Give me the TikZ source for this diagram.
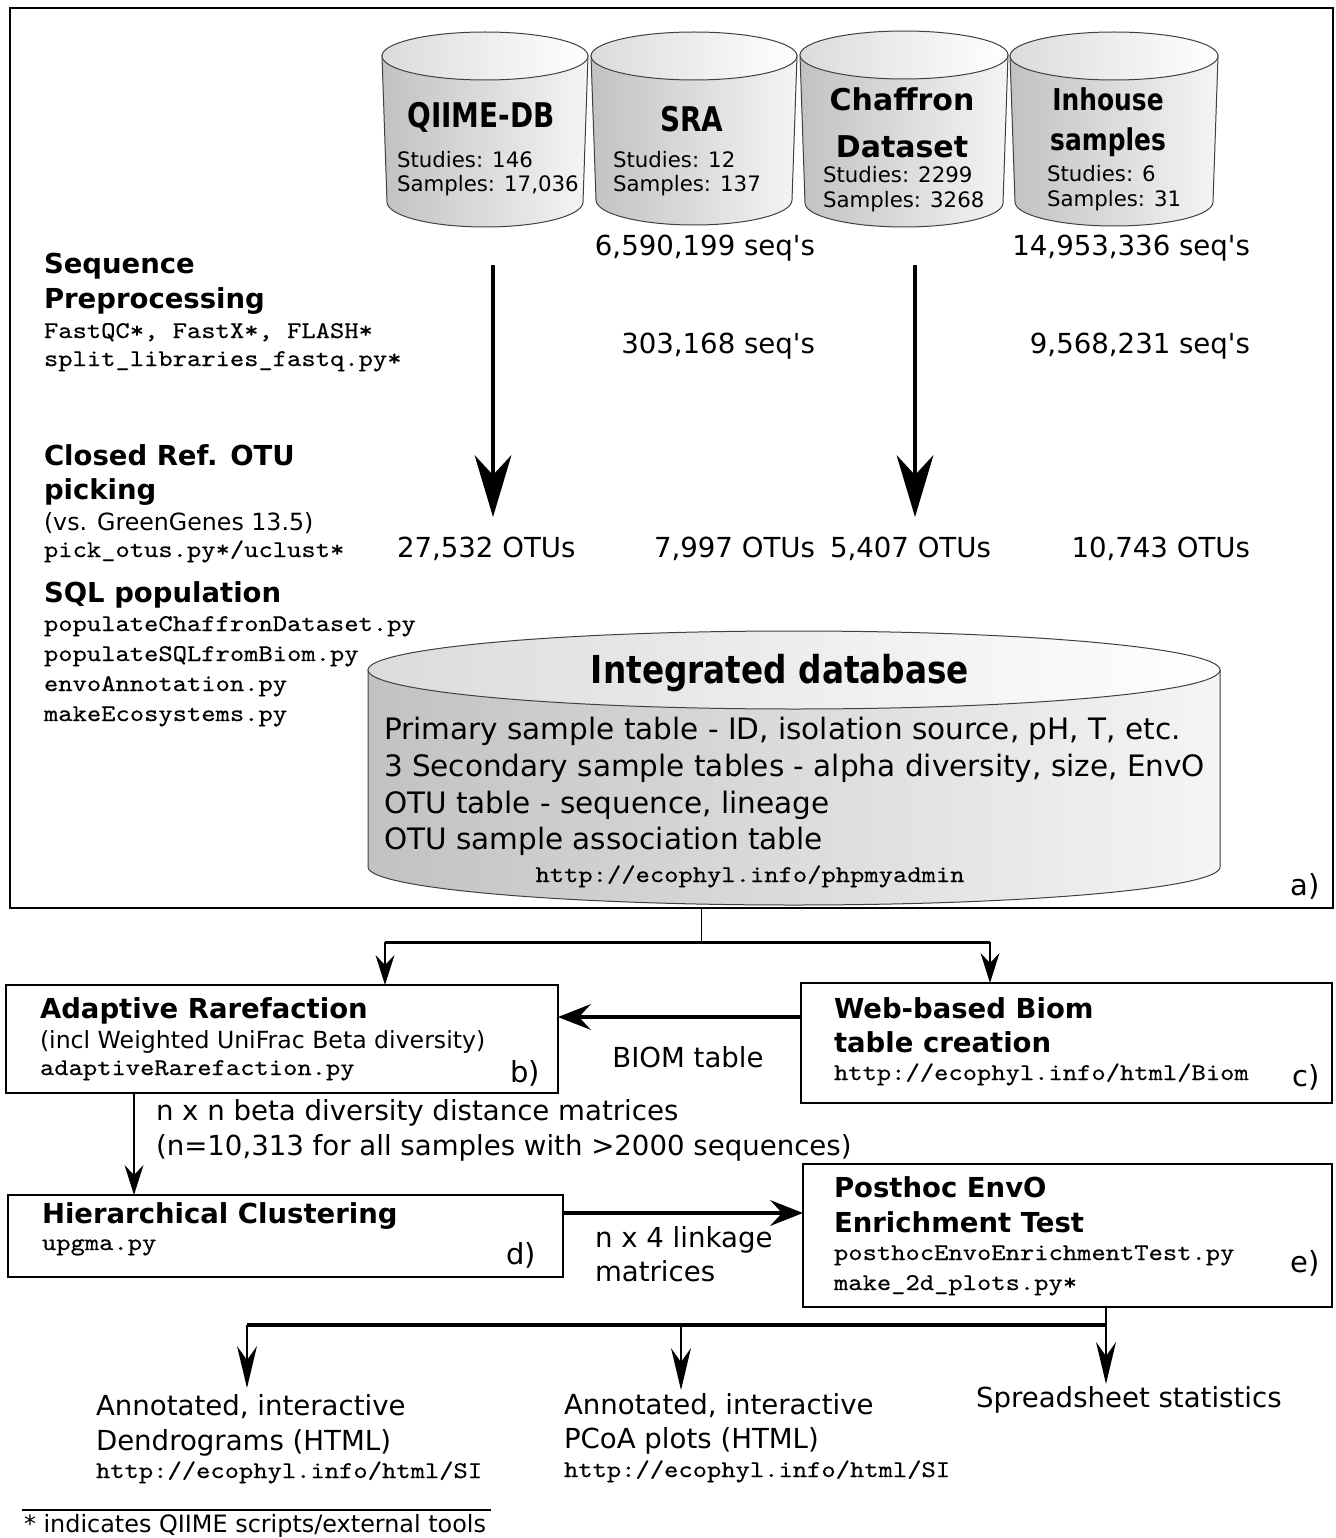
\documentclass[tikz,border=0pt]{standalone}
\usepackage{fontspec}
\setmainfont{DejaVu Sans}
\newfontfamily\condb[FakeStretch=0.82]{DejaVu Sans}
\newfontfamily\condi[FakeStretch=0.83]{DejaVu Sans}
\newfontfamily\condc[FakeStretch=0.85]{DejaVu Sans}
\newfontfamily\monof[FakeStretch=1.135,FakeBold=0.4]{lmmono10-regular.otf}
\usetikzlibrary{arrows.meta,calc}
\newcommand\fsz[1]{\fontsize{#1}{#1}\selectfont}
\newcommand\tline[6]{\node[anchor=#2,inner sep=0pt,outer sep=0pt,font=#5] (#1) at (#3,#4) {#6};}
% cylinder: #1 x1, #2 x2, #3 y top-centre, #4 y bottom-centre, #5 ry top, #6 ry bottom, #7 taper
\newcommand\drawcyl[7]{%
  \pgfmathsetmacro\cx{(#1+#2)/2}%
  \pgfmathsetmacro\rx{(#2-#1)/2}%
  \pgfmathsetmacro\rxb{\rx-#7}%
  \path[cylline, left color=black!24, right color=black!4]
    (#1,#3) -- ({\cx-\rxb},#4)
    .. controls ({\cx-\rxb},{#4+0.5523*#6}) and ({\cx-0.5523*\rxb},{#4+#6}) .. (\cx,{#4+#6})
    .. controls ({\cx+0.5523*\rxb},{#4+#6}) and ({\cx+\rxb},{#4+0.5523*#6}) .. ({\cx+\rxb},#4)
    -- (#2,#3) -- cycle;
  \path[cylline, left color=black!14, right color=white]
    (\cx,#3) ellipse [x radius=\rx pt, y radius=#5 pt];
}
\tikzset{
  cylline/.style={draw=black!75, line width=1pt},
  boxnode/.style={draw=black, line width=2pt, inner sep=0pt, outer sep=0pt},
  bigarr/.style={line width=4pt, -{Stealth[length=62pt,width=37pt,inset=20pt,line width=0pt]}},
  medarr/.style={line width=2pt, -{Stealth[length=30pt,width=19pt,inset=10pt,line width=0pt]}},
  harr/.style={line width=3.5pt, -{Stealth[length=33pt,width=26pt,inset=12pt,line width=0pt]}},
  botarr/.style={line width=2pt, -{Stealth[length=42pt,width=20pt,inset=14pt,line width=0pt]}},
}
\begin{document}
\begin{tikzpicture}[x=1pt,y=-1pt]
\useasboundingbox (0,0) rectangle (1335,1538);
\fill[white] (0,0) rectangle (1335,1538);

% outer frame a)
\node[draw=black, line width=1.5pt, inner sep=0pt, outer sep=0pt, minimum width=1323pt, minimum height=900pt] (frame) at (671.5,458) {};

% source cylinders
\drawcyl{382}{588}{56}{202}{24}{25}{5}
\drawcyl{591}{797}{56}{200}{24}{25}{5}
\drawcyl{800}{1008}{55}{203}{24}{24}{5}
\drawcyl{1010}{1218}{56}{202}{24}{24}{5}

\tline{q1}{base}{481}{128}{\condb\bfseries\fsz{34}}{QIIME-DB}
\tline{q2}{base west}{397}{168}{\fsz{21.3}}{Studies: 146}
\tline{q3}{base west}{397}{192}{\fsz{21.3}}{Samples: 17,036}
\tline{s1}{base}{692}{132}{\condb\bfseries\fsz{34}}{SRA}
\tline{s2}{base west}{613}{168}{\fsz{21.3}}{Studies: 12}
\tline{s3}{base west}{613}{192}{\fsz{21.3}}{Samples: 137}
\tline{c1}{base}{902}{111}{\bfseries\fsz{30}}{Chaffron}
\tline{c2}{base}{902}{158}{\bfseries\fsz{30}}{Dataset}
\tline{c3}{base west}{823}{183}{\fsz{21.3}}{Studies: 2299}
\tline{c4}{base west}{823}{208}{\fsz{21.3}}{Samples: 3268}
\tline{i1}{base}{1108}{111}{\condi\bfseries\fsz{30}}{Inhouse}
\tline{i2}{base}{1108}{151}{\condi\bfseries\fsz{30}}{samples}
\tline{i3}{base west}{1047}{182}{\fsz{21.3}}{Studies: 6}
\tline{i4}{base west}{1047}{207}{\fsz{21.3}}{Samples: 31}

% left column
\tline{lp1}{base west}{44}{273}{\bfseries\fsz{27.5}}{Sequence}
\tline{lp2}{base west}{44}{308}{\bfseries\fsz{27.5}}{Preprocessing}
\tline{lp3}{base west}{44}{338}{\monof\fsz{24}}{FastQC*, FastX*, FLASH*}
\tline{lp4}{base west}{44}{366}{\monof\fsz{24}}{split\_libraries\_fastq.py*}
\tline{lo1}{base west}{44}{465}{\bfseries\fsz{27.5}}{Closed Ref. OTU}
\tline{lo2}{base west}{44}{499}{\bfseries\fsz{27.5}}{picking}
\tline{lo3}{base west}{44}{530}{\fsz{23.7}}{(vs. GreenGenes 13.5)}
\tline{lo4}{base west}{44}{557}{\monof\fsz{24}}{pick\_otus.py*/uclust*}
\tline{ls1}{base west}{44}{602}{\bfseries\fsz{27.5}}{SQL population}
\tline{ls2}{base west}{44}{631}{\monof\fsz{24}}{populateChaffronDataset.py}
\tline{ls3}{base west}{44}{661}{\monof\fsz{24}}{populateSQLfromBiom.py}
\tline{ls4}{base west}{44}{691}{\monof\fsz{24}}{envoAnnotation.py}
\tline{ls5}{base west}{44}{721}{\monof\fsz{24}}{makeEcosystems.py}

% counts
\tline{n1}{base east}{815}{255}{\fsz{27.6}}{6,590,199 seq\textquotesingle s}
\tline{n2}{base east}{1250}{255}{\fsz{27.6}}{14,953,336 seq\textquotesingle s}
\tline{n3}{base east}{815}{353}{\fsz{27.6}}{303,168 seq\textquotesingle s}
\tline{n4}{base east}{1250}{353}{\fsz{27.6}}{9,568,231 seq\textquotesingle s}
\tline{n5}{base west}{397}{557}{\fsz{27.6}}{27,532 OTUs}
\tline{n6}{base east}{815}{557}{\fsz{27.6}}{7,997 OTUs}
\tline{n7}{base west}{830}{557}{\fsz{27.6}}{5,407 OTUs}
\tline{n8}{base east}{1250}{557}{\fsz{27.6}}{10,743 OTUs}

% big arrows
\coordinate (a1s) at (493,265); \coordinate (a1e) at (493,517);
\coordinate (a2s) at (915,265); \coordinate (a2e) at (915,517);
\draw[bigarr] (a1s) -- (a1e);
\draw[bigarr] (a2s) -- (a2e);

% integrated database
\drawcyl{368}{1220}{670}{867}{39}{38}{0}
\tline{db0}{base}{780}{683}{\condc\bfseries\fsz{38.5}}{Integrated database}
\tline{db1}{base west}{384}{739}{\fsz{29.5}}{Primary sample table - ID, isolation source, pH, T, etc.}
\tline{db2}{base west}{384}{776}{\fsz{29.5}}{3 Secondary sample tables - alpha diversity, size, EnvO}
\tline{db3}{base west}{384}{813}{\fsz{29.5}}{OTU table - sequence, lineage}
\tline{db4}{base west}{384}{849}{\fsz{29.5}}{OTU sample association table}
\tline{db5}{base}{750}{882}{\monof\fsz{24}}{http://ecophyl.info/phpmyadmin}
\tline{la}{base east}{1320}{895}{\fsz{29}}{a)}

% boxes
\node[boxnode, minimum width=552pt, minimum height=108pt] (bbox) at (282,1039) {};
\node[boxnode, minimum width=531pt, minimum height=120pt] (cbox) at (1066.5,1043) {};
\node[boxnode, minimum width=555pt, minimum height=82pt] (dbox) at (285.5,1236) {};
\node[boxnode, minimum width=529pt, minimum height=143pt] (ebox) at (1067.5,1235.5) {};

\tline{bt1}{base west}{40}{1018}{\bfseries\fsz{27.5}}{Adaptive Rarefaction}
\tline{bt2}{base west}{40}{1048}{\fsz{23.6}}{(incl Weighted UniFrac Beta diversity)}
\tline{bt3}{base west}{40}{1075}{\monof\fsz{24}}{adaptiveRarefaction.py}
\tline{bt4}{base east}{540}{1082}{\fsz{29}}{b)}
\tline{ct1}{base west}{834}{1018}{\bfseries\fsz{27.5}}{Web-based Biom}
\tline{ct2}{base west}{834}{1052}{\bfseries\fsz{27.5}}{table creation}
\tline{ct3}{base west}{834}{1080}{\monof\fsz{24}}{http://ecophyl.info/html/Biom}
\tline{ct4}{base east}{1320}{1086}{\fsz{29}}{c)}
\tline{biom}{base}{688}{1067}{\fsz{27.6}}{BIOM table}
\tline{nn1}{base west}{156}{1120}{\fsz{27.6}}{n x n beta diversity distance matrices}
\tline{nn2}{base west}{156}{1155}{\fsz{27.6}}{(n=10,313 for all samples with >2000 sequences)}
\tline{dt1}{base west}{42}{1223}{\bfseries\fsz{27.5}}{Hierarchical Clustering}
\tline{dt2}{base west}{42}{1250}{\monof\fsz{24}}{upgma.py}
\tline{dt3}{base east}{536}{1264}{\fsz{29}}{d)}
\tline{lk1}{base west}{595}{1247}{\fsz{27.6}}{n x 4 linkage}
\tline{lk2}{base west}{595}{1281}{\fsz{27.6}}{matrices}
\tline{et1}{base west}{834}{1197}{\bfseries\fsz{27.5}}{Posthoc EnvO}
\tline{et2}{base west}{834}{1232}{\bfseries\fsz{27.5}}{Enrichment Test}
\tline{et3}{base west}{834}{1260}{\monof\fsz{24}}{posthocEnvoEnrichmentTest.py}
\tline{et4}{base west}{834}{1290}{\monof\fsz{24}}{make\_2d\_plots.py*}
\tline{et5}{base east}{1320}{1272}{\fsz{29}}{e)}

% outputs
\tline{o1a}{base west}{96}{1415}{\fsz{27.6}}{Annotated, interactive}
\tline{o1b}{base west}{96}{1450}{\fsz{27.6}}{Dendrograms (HTML)}
\tline{o1c}{base west}{96}{1478}{\monof\fsz{24}}{http://ecophyl.info/html/SI}
\tline{o2a}{base west}{564}{1414}{\fsz{27.6}}{Annotated, interactive}
\tline{o2b}{base west}{564}{1448}{\fsz{27.6}}{PCoA plots (HTML)}
\tline{o2c}{base west}{564}{1477}{\monof\fsz{24}}{http://ecophyl.info/html/SI}
\tline{o3}{base west}{976}{1407}{\fsz{27.6}}{Spreadsheet statistics}

% footnote
\coordinate (fnl) at (22,1510); \coordinate (fnr) at (491,1510);
\draw[line width=1.5pt] (fnl) -- (fnr);
\tline{fn}{base west}{24}{1532}{\fsz{23.9}}{* indicates QIIME scripts/external tools}

% connectors
\coordinate (split) at (701,942);
\coordinate (sl) at (385,942);
\coordinate (sr) at (990,942);
\draw[line width=1pt] (frame.south -| split) -- (split);
\draw[line width=3pt] (sl) -- (sr);
\draw[medarr] (sl) -- (bbox.north -| sl);
\draw[medarr] (sr) -- (cbox.north -| sr);

\coordinate (cby) at (0,1017);
\draw[harr] (cbox.west |- cby) -- (bbox.east |- cby);

\coordinate (bdx) at (134,0);
\draw[medarr] (bbox.south -| bdx) -- (dbox.north -| bdx);

\coordinate (dey) at (0,1213);
\draw[harr] (dbox.east |- dey) -- (ebox.west |- dey);

\coordinate (ex) at (1106,1325);
\coordinate (o1) at (247,1325);
\coordinate (o2) at (681,1325);
\coordinate (t1) at (247,1388);
\coordinate (t2) at (681,1390);
\coordinate (t3) at (1106,1384);
\draw[line width=1.5pt] (ebox.south -| ex) -- (ex);
\draw[line width=4pt] (o1) -- (ex);
\draw[botarr] (o1) -- (t1);
\draw[botarr] (o2) -- (t2);
\draw[botarr] (ex) -- (t3);
\end{tikzpicture}
\end{document}
